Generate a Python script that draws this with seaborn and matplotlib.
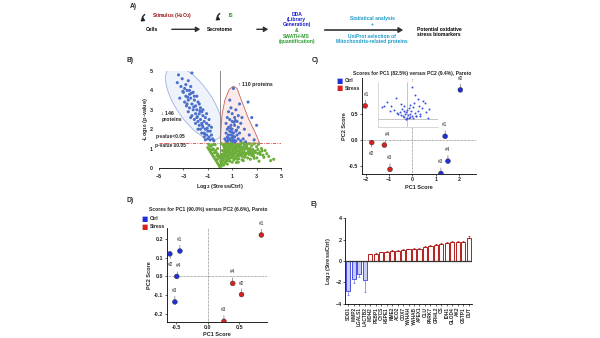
import numpy as np
import pandas as pd
import matplotlib
matplotlib.use("Agg")
import matplotlib.pyplot as plt
import seaborn as sns
from matplotlib.patches import Polygon, FancyArrowPatch

sns.set_theme(style="white")
plt.rcParams['font.family'] = ['Liberation Sans', 'DejaVu Sans']
plt.rcParams['font.weight'] = 'bold'
plt.rcParams['axes.labelweight'] = 'bold'

# ---------------- data ----------------
down_x = [-3.4,-3.1,-2.3,-2.6,-3.2,-2.9,-2.7,-3.0,-2.5,-2.8,-2.2,-3.3,-2.6,-2.4,-2.9,-2.1,-2.7,-2.3,-2.0,-2.5,
          -1.8,-2.2,-1.9,-2.6,-1.6,-2.0,-1.7,-2.3,-1.5,-1.9,-1.4,-2.1,-1.6,-1.2,-1.8,-1.3,-1.5,-2.0,-1.1,-1.7,
          -1.4,-0.9,-1.2,-1.6,-1.0,-1.3,-0.8,-1.5,-1.1,-0.7,-1.3,-0.9,-0.6,-1.0,-1.2,-0.8,-0.5,-2.8,-3.5,-2.4,
          -1.9,-2.1,-1.7,-1.4,-1.1,-0.9,-0.7,-2.4,-1.8,-2.5,-3.05,-2.65,-2.15,-1.85,-1.45,-1.05,-2.35,-2.75,-1.65,-1.25]
down_y = [4.8,4.6,4.9,4.5,4.2,4.1,4.0,3.9,3.8,3.7,3.9,3.6,3.5,3.6,3.4,3.5,3.3,3.3,3.2,3.1,
          3.4,3.0,3.0,2.9,3.1,2.8,2.8,2.7,2.9,2.6,2.7,2.5,2.5,2.6,2.4,2.4,2.3,2.3,2.3,2.2,
          2.1,2.2,2.0,2.0,1.9,1.8,1.9,1.8,1.7,1.7,1.6,1.6,1.5,1.5,1.45,1.45,1.4,4.3,4.4,4.2,
          3.7,3.7,3.3,3.0,2.8,2.5,2.1,2.6,2.0,4.0,3.95,3.65,3.15,2.65,2.2,2.05,3.85,3.2,2.95,1.75]
up_x = [1.1,2.3,1.6,0.9,1.3,0.7,1.0,1.5,0.6,1.2,2.6,0.8,1.4,1.0,0.5,1.7,0.9,1.2,0.7,1.5,
        2.0,0.6,1.0,1.3,0.8,0.5,1.1,1.6,0.7,1.4,0.9,2.4,0.6,1.2,1.0,0.4,0.8,1.5,1.9,0.7,
        1.1,1.3,0.5,0.9,1.7,2.8,0.6,1.0,1.2,2.1,3.0,0.8,1.8,1.05,0.85,1.25,0.65,1.35,0.95,1.15]
up_y = [4.1,3.4,3.3,3.1,3.0,2.9,2.8,2.7,2.6,2.6,2.6,2.5,2.4,2.4,2.3,2.3,2.2,2.2,2.1,2.1,
        2.0,2.0,2.0,1.9,1.9,1.8,1.8,1.8,1.7,1.7,1.7,1.7,1.6,1.6,1.55,1.5,1.5,1.5,1.5,1.45,
        1.45,1.4,1.4,1.4,1.4,1.45,1.35,1.35,1.35,1.35,2.2,3.5,2.6,1.65,2.05,2.45,1.55,1.95,1.85,2.35]
ns_x = [0.0,0.1,-0.1,0.2,-0.2,0.3,0.15,-0.3,0.4,0.25,-0.4,0.5,0.35,-0.5,0.6,0.45,-0.6,0.7,0.55,-0.7,
        0.8,0.65,-0.8,0.9,0.75,-0.9,1.0,0.85,-1.0,1.1,0.95,-0.8,1.2,1.05,-0.6,1.3,1.5,1.7,1.9,2.1,
        2.3,2.5,2.7,2.9,3.1,3.3,1.4,1.6,1.8,2.0,2.2,2.4,2.6,1.2,1.4,1.6,1.8,2.0,1.0,1.2,
        1.4,0.8,1.0,0.6,1.7,2.2,2.6,3.0,3.4,3.7,4.0,4.4,3.6,-0.5,-0.3,-0.2,-0.4,0.1,0.3,0.5,
        0.7,0.9,0.2,0.4,0.6,0.1,0.3,0.5,-0.1,0.2,0.4,-0.2,0.05,1.5,2.8,3.2,2.4,1.9,1.1,1.3,
        0.7,1.6,2.0,2.8,3.1,
        0.12,0.33,0.47,0.58,0.71,0.84,0.93,1.07,1.18,1.26,1.37,1.48,1.59,1.63,1.74,1.86,1.97,2.08,2.19,2.31,
        2.44,2.53,2.67,2.76,2.88,3.02,3.27,3.52,3.83,4.15,-0.07,-0.18,-0.27,-0.36,-0.47,-0.58,-0.66,-0.74,-0.85,-0.93,
        0.27,0.41,0.63,0.77,0.88,1.13,1.31,1.54,1.69,1.81,2.05,2.27,2.49,0.36,0.52,0.68,0.82,0.97,1.16,1.42,
        0.18,0.09,-0.04,0.29,0.61,1.02,1.22,1.47,1.78,2.12,2.38,2.71,3.15,3.45,0.44,0.74,1.34,1.91]
ns_y = [0.05,0.1,0.15,0.2,0.25,0.15,0.3,0.35,0.3,0.4,0.45,0.4,0.5,0.55,0.5,0.6,0.65,0.6,0.7,0.75,
        0.7,0.8,0.85,0.8,0.9,0.95,0.9,1.0,1.05,1.0,1.1,1.15,1.1,1.2,1.2,1.2,1.15,1.1,1.05,1.0,
        0.95,0.9,0.85,0.8,0.75,0.7,0.95,0.9,0.85,0.8,0.75,0.7,0.65,0.75,0.7,0.65,0.6,0.55,0.55,0.5,
        0.45,0.35,0.3,0.2,1.25,1.2,1.15,1.1,1.0,0.9,0.6,0.45,0.55,0.95,0.8,1.0,1.2,1.25,1.15,1.25,
        1.2,1.28,0.9,1.0,1.05,0.7,0.75,0.85,0.6,0.55,0.7,0.45,0.35,0.3,0.5,0.35,1.25,1.28,0.65,0.85,
        0.95,1.05,0.95,1.25,0.95,
        0.62,0.88,1.12,0.94,1.08,1.17,0.66,0.83,0.97,1.13,1.04,0.86,0.78,1.21,0.93,0.74,1.16,0.68,1.08,0.84,
        1.02,0.78,0.97,0.61,0.88,0.52,0.82,0.66,0.74,0.38,0.52,0.71,0.62,0.88,0.78,0.99,0.92,1.12,0.98,1.22,
        0.64,0.82,0.58,0.82,0.52,0.42,0.58,0.48,0.72,0.42,0.62,0.52,0.45,1.05,0.94,0.76,1.1,0.71,1.02,1.18,
        0.48,0.22,0.12,1.18,0.38,1.21,0.92,0.62,1.02,1.15,0.85,0.72,1.22,0.88,0.26,0.46,0.28,0.38]

load_x = [-0.05,0.0,0.05,-0.1,0.1,-0.15,0.15,0.02,-0.03,0.08,-0.08,0.2,-0.2,0.25,-0.25,0.12,-0.12,0.3,-0.3,0.0,
          0.05,-0.05,0.18,-0.18,0.35,-0.35,0.4,-0.45,0.45,0.1,-0.1,0.22,-0.22,0.5,-0.55,0.6,-0.8,-0.85,0.55,0.65,
          0.25,0.35,-0.6,-0.7,0.7,0.15,-0.4,0.3,0.75,0.45]
load_y = [0.02,0.05,0.03,0.08,0.06,0.1,0.12,0.15,0.0,0.18,0.2,0.05,0.14,0.22,0.25,0.3,0.32,0.12,0.18,0.35,
          0.4,0.28,0.45,0.38,0.3,0.22,0.5,0.35,0.1,0.55,0.48,0.6,0.58,0.42,0.5,0.6,0.5,0.45,0.7,0.25,
          0.9,0.75,0.3,0.65,0.05,1.2,0.8,0.1,0.38,0.2]

c_ctrl_x = [1.40, 2.05, 1.22, 1.52]
c_ctrl_y = [0.07, 0.97, -0.65, -0.41]
c_str_x = [-2.02, -1.74, -0.96, -1.20]
c_str_y = [0.66, -0.05, -0.57, -0.10]
d_ctrl_x = [-0.44, -0.60, -0.52, -0.49]
d_ctrl_y = [0.135, 0.12, -0.135, 0.0]
d_str_x = [0.855, 0.54, 0.26, 0.40]
d_str_y = [0.22, -0.096, -0.238, -0.037]
rep_labels = ["#1", "#2", "#3", "#4"]

genes = ["SOD1","MMP2","LGALS1","LACTB2","MDH2","PEBP1","CYCS","HSPE1","NME2","ACO2","COX7",
         "YWHAH","YWHAB","APEX1","CLU","PARK7","GRHL2","CS","IDH1","GLOD4","AK2","GSTP1","DUT"]
log2fc = [-2.8,-1.7,-1.2,-1.8,0.62,0.70,0.80,0.88,0.92,0.98,1.0,1.1,1.15,1.12,1.3,1.4,1.5,1.55,1.65,1.75,1.8,1.75,2.2]
log2err = [0.4,0.35,0.3,1.1,0.08,0.08,0.06,0.08,0.1,0.08,0.08,0.06,0.1,0.1,0.1,0.1,0.12,0.1,0.1,0.08,0.1,0.15,0.12]

# ---------------- figure ----------------
W, H = 600, 338
fig = plt.figure(figsize=(6, 3.38), dpi=100)
fig.patch.set_facecolor("white")

def fx(px): return px / W
def fy(py): return 1 - py / H
def ax_at(l, t, r, b): return fig.add_axes([fx(l), fy(b), (r - l) / W, (b - t) / H])

FS = 4.0
TS = 3.9
BLUE = "#2030d8"; RED = "#d82020"

def style_ax(ax):
    for s in ["top", "right"]:
        ax.spines[s].set_visible(False)
    for s in ["left", "bottom"]:
        ax.spines[s].set_color("black"); ax.spines[s].set_linewidth(0.6)
    ax.tick_params(bottom=True, left=True, length=1.5, width=0.5, labelsize=TS, pad=1)
    ax.set_facecolor("none")

# panel labels
for lab, (px, py) in {"A)": (133, 6), "B)": (130, 61), "C)": (315, 60), "D)": (130, 201), "E)": (314, 204)}.items():
    fig.text(fx(px), fy(py), lab, fontsize=4.8, fontweight="bold", ha="center", va="center")

# ---------------- A: workflow ----------------
def ftxt(px, py, s, color="black", ha="center", fs=3.6):
    fig.text(fx(px), fy(py), s, color=color, fontsize=fs, fontweight="bold", ha=ha, va="center", linespacing=1.1)

def farrow(x1, x2, y, lw=1.0):
    fig.add_artist(FancyArrowPatch((fx(x1), fy(y)), (fx(x2), fy(y)), transform=fig.transFigure,
                                   arrowstyle="-|>,head_length=2.5,head_width=1.5", color="#333333", lw=lw))

def fcurl(px, py):
    fig.add_artist(FancyArrowPatch((fx(px + 3), fy(py - 5)), (fx(px + 4), fy(py + 4)), transform=fig.transFigure,
                                   connectionstyle="arc3,rad=1.1",
                                   arrowstyle="-|>,head_length=1.8,head_width=1.2", color="#222222", lw=1.0))

fcurl(144, 18)
ftxt(152, 15.7, "Stimulus (H$_2$O$_2$)", color="#a01818", ha="left")
ftxt(152, 29.3, "Cells")
farrow(169, 203, 29.3)
ftxt(220, 29.3, "Secretome")
fcurl(219, 17)
ftxt(229, 15.7, "IS", color="#2a9a2a", ha="left")
farrow(254, 271, 29.3)
ftxt(296.7, 19.5, "DDA\n(Library\nGeneration)", color="#1a1ad0")
ftxt(296.7, 30, "&", color="#2a8a2a")
ftxt(296.7, 38.7, "SWATH-MS\n(quantification)", color="#2a9a2a")
farrow(322, 406, 30, lw=1.2)
ftxt(372.3, 21.5, "Statistical analysis\n+", color="#1a9ac8")
ftxt(372.3, 38.7, "UniProt selection of\nMitochondria-related proteins", color="#1a9ac8")
ftxt(416.7, 32, "Potential oxidative\nstress biomarkers", ha="left")

# ---------------- B: volcano ----------------
axB = ax_at(159, 71, 281, 168)
style_ax(axB)
vdf = pd.DataFrame({
    "x": down_x + up_x + ns_x,
    "y": down_y + up_y + ns_y,
    "g": ["down"] * len(down_x) + ["up"] * len(up_x) + ["ns"] * len(ns_x),
})
sx, sy = 12.2, 19.4  # px per unit
t = np.linspace(0, 2 * np.pi, 120)
th = np.deg2rad(124.4)
ex = 43 * np.cos(t) * np.cos(th) - 18 * np.sin(t) * np.sin(th)
ey = 43 * np.cos(t) * np.sin(th) + 18 * np.sin(t) * np.cos(th)
axB.add_patch(Polygon(np.c_[-2.13 + ex / sx, 3.35 + ey / sy], closed=True, facecolor="#eef3fb",
                      edgecolor="#9ab4dc", lw=0.6, zorder=1))
red_shape = [(0.05, 1.28), (0.08, 2.0), (0.18, 2.8), (0.4, 3.5), (0.75, 4.05), (1.1, 4.22), (1.4, 4.1),
             (1.75, 3.5), (2.3, 2.6), (2.9, 1.8), (3.25, 1.28)]
axB.add_patch(Polygon(red_shape, closed=True, facecolor="#fbeaea", edgecolor="#c86060", lw=0.6, zorder=1))
sns.scatterplot(data=vdf, x="x", y="y", hue="g", palette={"down": "#4a70cc", "up": "#4a70cc", "ns": "#6cae3a"},
                s=5, linewidth=0, legend=False, ax=axB, zorder=3)
axB.axhline(1.3, color="#d04848", lw=0.6, ls=(0, (4, 1.5, 1, 1.5)), zorder=2)
axB.plot([0, 0], [0, 5.05], color="#777777", lw=0.6, zorder=2)
axB.set_xlim(-5, 5); axB.set_ylim(0, 5)
axB.set_xticks([-5, -3, -1, 1, 3, 5]); axB.set_yticks([0, 1, 2, 3, 4, 5])
axB.spines["left"].set_visible(False)
axB.tick_params(left=False, pad=3)
axB.set_xlabel("Log$_2$ (Stress/Ctrl)", fontsize=FS, labelpad=2)
axB.set_ylabel("-Log$_{10}$ (p-value)", fontsize=FS, labelpad=0)
axB.text(-5.3, 1.6, "p-value<0.05", fontsize=3.5, ha="left", va="center")
axB.text(-5.3, 1.18, "p-value \u22650.05", fontsize=3.5, ha="left", va="center")
axB.text(-4.8, 2.65, "\u2193 146\nproteins", fontsize=3.7, ha="left", va="center", linespacing=1.2)
axB.text(1.5, 4.28, "\u2191 110 proteins", fontsize=3.7, ha="left", va="center")

# ---------------- PCA helper ----------------
def pca_panel(ax, cx, cy, stx, sty, offs_c, offs_s):
    style_ax(ax)
    df = pd.DataFrame({"x": cx + stx, "y": cy + sty, "grp": ["Ctrl"] * 4 + ["Stress"] * 4})
    sns.scatterplot(data=df, x="x", y="y", hue="grp", palette={"Ctrl": BLUE, "Stress": RED},
                    s=12, edgecolor="#222222", linewidth=0.3, legend=False, ax=ax, zorder=4)
    ax.axhline(0, color="#666666", lw=0.5, ls=(0, (1, 1)), zorder=1)
    ax.axvline(0, color="#666666", lw=0.5, ls=(0, (1, 1)), zorder=1)
    for xs, ys, offs in [(cx, cy, offs_c), (stx, sty, offs_s)]:
        for x, y, lab, (dx, dy) in zip(xs, ys, rep_labels, offs):
            ax.annotate(lab, xy=(x, y), xytext=(dx * 0.72, dy * 0.72), textcoords="offset points",
                        ha="center", va="bottom" if dy > 0 else "top", fontsize=3.4, fontweight="normal",
                        arrowprops=dict(arrowstyle="-", color="#555555", lw=0.4, shrinkA=0, shrinkB=1.8))
    ax.set_xlabel("PC1 Score", fontsize=FS, labelpad=1.5)
    ax.set_ylabel("PC2 Score", fontsize=FS, labelpad=1.5)

def legend_fig(px, py):
    for i, (lab, col) in enumerate([("Ctrl", BLUE), ("Stress", RED)]):
        fig.text(fx(px), fy(py + i * 7.7), "\u25a0", color=col, fontsize=4.8, ha="center", va="center",
                 family="DejaVu Sans")
        fig.text(fx(px + 5), fy(py + i * 7.7), lab, fontsize=3.6, ha="left", va="center")

# ---------------- C ----------------
axC = ax_at(361.7, 78, 476, 174)
pca_panel(axC, c_ctrl_x, c_ctrl_y, c_str_x, c_str_y,
          [(0, 9), (0, 9), (0, 9), (0, 9)], [(1, 9), (0, -8), (0, 9), (3, 8)])
axC.set_xlim(-2.17, 2.72); axC.set_ylim(-0.66, 1.2)
axC.set_xticks([-2, -1, 0, 1, 2]); axC.set_yticks([-0.5, 0.0, 0.5])
axC.set_yticklabels(["-0.5", "0.0", "0.5"])
fig.text(fx(411.7), fy(73.3), "Scores for PC1 (82.5%) versus PC2 (9.4%), Pareto", fontsize=3.6,
         ha="center", va="center", fontweight="bold")
legend_fig(340, 80.7)

axI = ax_at(378, 82, 438, 127)
axI.set_facecolor("white")
for s in axI.spines.values():
    s.set_color("#bbbbbb"); s.set_linewidth(0.4)
axI.spines["top"].set_visible(False); axI.spines["right"].set_visible(False)
axI.axhline(0, color="#999999", lw=0.4); axI.axvline(0, color="#999999", lw=0.4)
sns.scatterplot(x=load_x, y=load_y, color="#3a50e0", s=2, linewidth=0, ax=axI, zorder=3)
axI.set_xlim(-1, 1.05); axI.set_ylim(-0.3, 1.4)
axI.set_xticks([]); axI.set_yticks([])

# ---------------- D ----------------
axD = ax_at(166.7, 228, 266.7, 321.7)
pca_panel(axD, d_ctrl_x, d_ctrl_y, d_str_x, d_str_y,
          [(0, 9), (1, -8), (0, 9), (2, 8)], [(0, 9), (0, 9), (0, 9), (0, 9)])
axD.set_xlim(-0.65, 0.94); axD.set_ylim(-0.24, 0.257)
axD.set_xticks([-0.5, 0.0, 0.5]); axD.set_yticks([-0.2, -0.1, 0.0, 0.1, 0.2])
axD.set_xticklabels(["-0.5", "0.0", "0.5"])
axD.set_yticklabels(["-0.2", "-0.1", "0.0", "0.1", "0.2"])
fig.text(fx(208.3), fy(210), "Scores for PC1 (90.0%) versus PC2 (6.6%), Pareto", fontsize=3.6,
         ha="center", va="center", fontweight="bold")
legend_fig(145, 219)

# ---------------- E ----------------
axE = ax_at(345, 218.3, 472, 303.7)
style_ax(axE)
edf = pd.DataFrame({"gene": genes, "val": log2fc})
sns.barplot(data=edf, x="gene", y="val", hue="gene", palette=["#ffffff"] * len(genes),
            legend=False, ax=axE, width=0.78, zorder=2)
for i, p in enumerate(axE.patches):
    if log2fc[i] < 0:
        p.set_facecolor("#c8ccf6"); p.set_edgecolor("#4a50e0")
    else:
        p.set_facecolor("#fff6f6"); p.set_edgecolor("#b02020")
    p.set_linewidth(0.7)
for i, (v, e) in enumerate(zip(log2fc, log2err)):
    col = "#6a70e8" if v < 0 else "#b02020"
    lo, hi = ([e], [0]) if v < 0 else ([0], [e])
    axE.errorbar([i], [v], yerr=[lo, hi], fmt="none", ecolor=col, elinewidth=0.5, capsize=0.8,
                 capthick=0.5, zorder=3)
axE.axhline(0, color="#333333", lw=0.9, zorder=4)
axE.set_ylim(-4, 4); axE.set_xlim(-0.6, len(genes) - 0.4)
axE.set_yticks([-4, -2, 0, 2, 4])
axE.set_xlabel("")
axE.set_ylabel("Log$_2$ (Stress/Ctrl)", fontsize=FS, labelpad=2)
axE.tick_params(axis="x", labelsize=3.4, rotation=90, length=1.2)

fig.savefig("out.png", dpi=100, facecolor="white")
